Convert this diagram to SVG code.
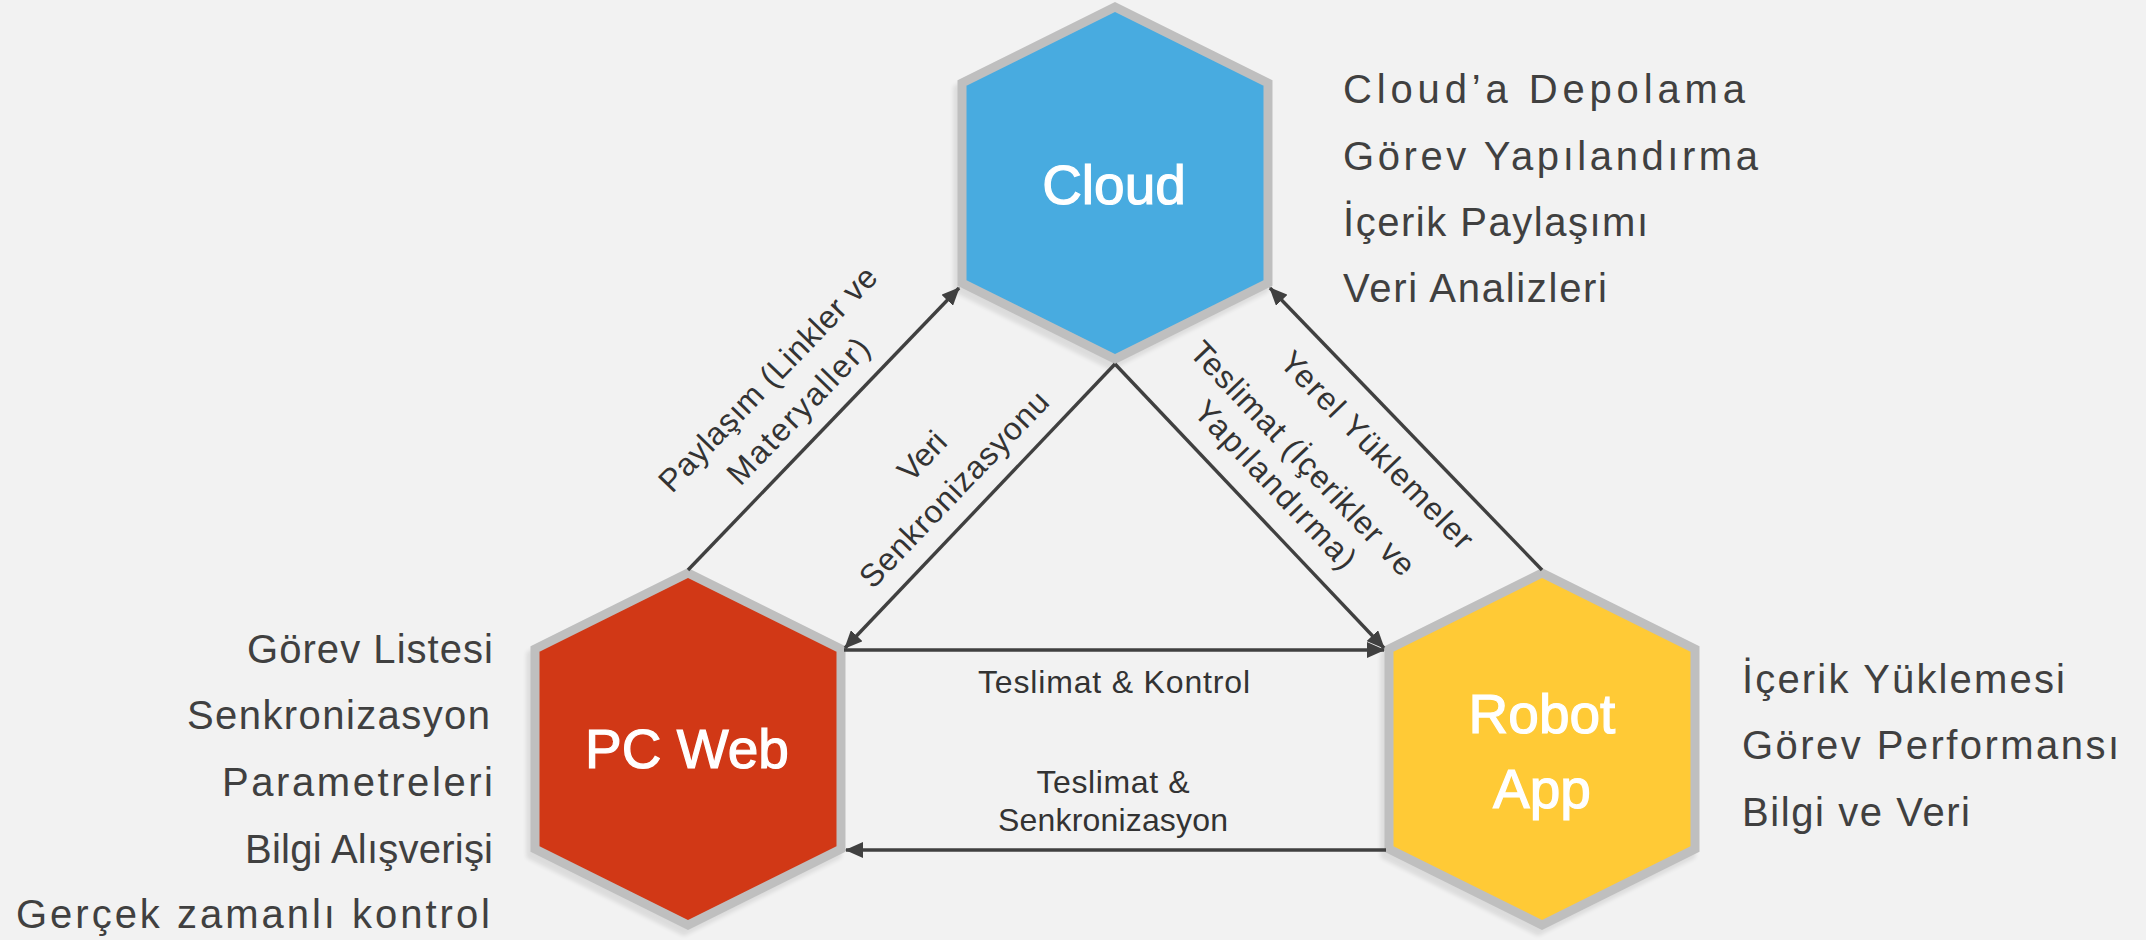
<svg xmlns="http://www.w3.org/2000/svg" width="2146" height="940" viewBox="0 0 2146 940">
<defs>
<style>
.hex{stroke:#BFBFBF;stroke-width:9;stroke-linejoin:miter}
.shadow{fill:#000;stroke:#000;stroke-width:9;opacity:0.09}
.title{font-family:"Liberation Sans",Arial,sans-serif;font-size:55px;fill:#FFFFFF;stroke:#FFFFFF;stroke-width:1.2px;text-anchor:middle}
.list{font-family:"Liberation Sans",Arial,sans-serif;font-size:40px;fill:#404040}
.lbl{font-family:"Liberation Sans",Arial,sans-serif;font-size:32px;fill:#333333;text-anchor:middle}
.conn{stroke:#404040;stroke-width:3.4;fill:none}
</style>
<filter id="blur" x="-10%" y="-10%" width="120%" height="120%"><feGaussianBlur stdDeviation="2"/></filter>
<marker id="arr" markerUnits="userSpaceOnUse" markerWidth="18" markerHeight="16" refX="17" refY="8" orient="auto" viewBox="0 0 18 16">
<path d="M0,0 L18,8 L0,16 Z" fill="#404040"/>
</marker>
</defs>
<rect x="0" y="0" width="2146" height="940" fill="#F2F2F2"/>

<g id="cloud">
<polygon class="shadow" filter="url(#blur)" transform="translate(-4,6)" points="1115,7 1268,83 1268,283 1115,359 962,283 962,83"/>
<polygon class="hex" fill="#48ABE0" points="1115,7 1268,83 1268,283 1115,359 962,283 962,83"/>
<text class="title" x="1114" y="204">Cloud</text>
</g>

<g id="pcweb">
<polygon class="shadow" filter="url(#blur)" transform="translate(-4,6)" points="688,573 841,649 841,849 688,925 535,849 535,649"/>
<polygon class="hex" fill="#D13816" points="688,573 841,649 841,849 688,925 535,849 535,649"/>
<text class="title" x="687" y="768">PC Web</text>
</g>

<g id="robotapp">
<polygon class="shadow" filter="url(#blur)" transform="translate(-4,6)" points="1542,573 1695,649 1695,849 1542,925 1389,849 1389,649"/>
<polygon class="hex" fill="#FFCA36" points="1542,573 1695,649 1695,849 1542,925 1389,849 1389,649"/>
<text class="title" x="1542" y="733">Robot</text>
<text class="title" x="1542" y="808">App</text>
</g>

<g id="connectors">
<path class="conn" d="M688,570 L959,288" marker-end="url(#arr)"/>
<path class="conn" d="M1115,364 L845,648" marker-end="url(#arr)"/>
<path class="conn" d="M1115,364 L1384,648" marker-end="url(#arr)"/>
<path class="conn" d="M1542,570 L1270,288" marker-end="url(#arr)"/>
<path class="conn" d="M844,650 L1384,650" marker-end="url(#arr)"/>
<path class="conn" d="M1386,850 L846,850" marker-end="url(#arr)"/>
</g>

<g id="edge-labels">
<text class="lbl" transform="translate(688,570) rotate(-46.1)" x="193" y="-64" textLength="299" lengthAdjust="spacing">Paylaşım (Linkler ve</text>
<text class="lbl" transform="translate(688,570) rotate(-46.1)" x="191" y="-20" textLength="190" lengthAdjust="spacing">Materyaller)</text>
<text class="lbl" transform="translate(845,648) rotate(-46.3)" x="192" y="-66">Veri</text>
<text class="lbl" transform="translate(845,648) rotate(-46.3)" x="190" y="-20" textLength="258" lengthAdjust="spacing">Senkronizasyonu</text>
<text class="lbl" transform="translate(1115,364) rotate(46.4)" x="198" y="-60" textLength="310" lengthAdjust="spacing">Teslimat (İçerikler ve</text>
<text class="lbl" transform="translate(1115,364) rotate(46.4)" x="198" y="-22" textLength="219" lengthAdjust="spacing">Yapılandırma)</text>
<text class="lbl" transform="translate(1270,288) rotate(45.9)" x="191" y="47" textLength="262" lengthAdjust="spacing">Yerel Yüklemeler</text>
<text class="lbl" x="1114" y="693" textLength="272" lengthAdjust="spacing">Teslimat &amp; Kontrol</text>
<text class="lbl" x="1113" y="793" textLength="153" lengthAdjust="spacing">Teslimat &amp;</text>
<text class="lbl" x="1113" y="831" textLength="230" lengthAdjust="spacing">Senkronizasyon</text>
</g>

<g id="cloud-list">
<text class="list" x="1343" y="103" textLength="402" lengthAdjust="spacing">Cloud’a Depolama</text>
<text class="list" x="1343" y="170" textLength="415" lengthAdjust="spacing">Görev Yapılandırma</text>
<text class="list" x="1343" y="236" textLength="305" lengthAdjust="spacing">İçerik Paylaşımı</text>
<text class="list" x="1343" y="302" textLength="264" lengthAdjust="spacing">Veri Analizleri</text>
</g>

<g id="pcweb-list" text-anchor="end">
<text class="list" x="493" y="663" textLength="246" lengthAdjust="spacing">Görev Listesi</text>
<text class="list" x="490" y="729" textLength="303" lengthAdjust="spacing">Senkronizasyon</text>
<text class="list" x="493" y="796" textLength="271" lengthAdjust="spacing">Parametreleri</text>
<text class="list" x="493" y="863" textLength="248" lengthAdjust="spacing">Bilgi Alışverişi</text>
<text class="list" x="490" y="928" textLength="474" lengthAdjust="spacing">Gerçek zamanlı kontrol</text>
</g>

<g id="robot-list">
<text class="list" x="1742" y="693" textLength="323" lengthAdjust="spacing">İçerik Yüklemesi</text>
<text class="list" x="1742" y="759" textLength="377" lengthAdjust="spacing">Görev Performansı</text>
<text class="list" x="1742" y="826" textLength="228" lengthAdjust="spacing">Bilgi ve Veri</text>
</g>
</svg>
